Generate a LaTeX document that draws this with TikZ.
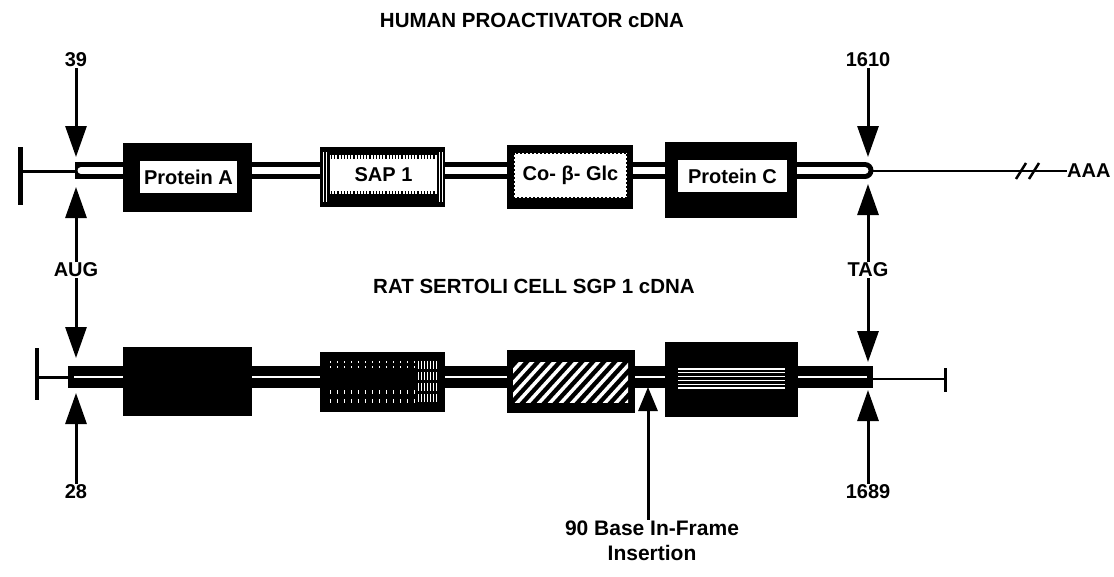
\documentclass[tikz,border=0pt]{standalone}
\usepackage{fontspec}
\setmainfont{Liberation Sans}
\usetikzlibrary{arrows.meta}
\begin{document}
\begin{tikzpicture}[x=1pt,y=-1pt,
  lab/.style={font=\fontsize{20}{24}\selectfont\bfseries, inner sep=1pt},
  ttl/.style={font=\fontsize{20.5}{24}\selectfont\bfseries, inner sep=1pt},
  bigarrow/.style={line width=3pt, -{Triangle[length=31pt,width=21pt]}},
  insarrow/.style={line width=3pt, -{Triangle[length=24pt,width=19pt]}},
  exon/.style={fill=black, inner sep=0pt, outer sep=0pt},
  win/.style={fill=white, inner sep=0pt, outer sep=0pt, font=\fontsize{20}{24}\selectfont\bfseries},
  stripe/.style={white, line width=0.7pt},
]
\useasboundingbox (0,0) rectangle (1114,576);

% ---------- titles
\node[ttl] (title1) at (532,20) {HUMAN PROACTIVATOR cDNA};
\node[ttl] (title2) at (534,286) {RAT SERTOLI CELL SGP 1 cDNA};

% ---------- top row backbone
\coordinate (tL) at (20,171);
\coordinate (tS) at (75,170.5);
\coordinate (tE) at (865,170.5);
\coordinate (tR) at (1067,171);
\draw[line width=5pt] (20,147) -- (20,205);
\draw[line width=3pt] (tL) -- (75,171);
\draw[line width=17pt] (tS) -- (tE);
\fill (tE) circle (8.5pt);
\draw[white, line width=7pt, line cap=round] (81,170.5) -- (865,170.5);
\draw[line width=2pt] (873,171) -- (tR);
\draw[line width=2.5pt] (1016,179) -- (1026,163) (1029,179) -- (1039,163);
\node[lab, anchor=west, inner sep=0pt] (aaa) at (tR) {AAA};

% ---------- top row boxes
\node[exon, minimum width=129pt, minimum height=69pt] (pA) at (187.5,177.5) {};
\node[win, minimum width=97pt, minimum height=32pt] (pAl) at (188.5,177) {Protein A};

\node[exon, minimum width=125pt, minimum height=60pt] (sap) at (382.5,177) {};
\node[win, minimum width=107pt, minimum height=39pt] (sapl) at (383.5,174.5) {SAP 1};
\draw[line width=4pt, dash pattern=on 1.2pt off 2pt] (331,156.5) -- (436,156.5);
\draw[line width=4pt, dash pattern=on 1.2pt off 2pt] (331,192.5) -- (436,192.5);
\foreach \x in {323.5,326.5,439.5,442} \draw[stripe] (\x,152) -- (\x,202);

\node[exon, minimum width=126pt, minimum height=64pt] (cbg) at (570,177) {};
\node[win, minimum width=113pt, minimum height=45pt] (cbgl) at (570.5,175.5) {Co- β- Glc};
\draw[line width=1.5pt, dash pattern=on 2pt off 2pt] (cbgl.north west) rectangle (cbgl.south east);

\node[exon, minimum width=132pt, minimum height=76pt] (pC) at (731,180) {};
\node[win, minimum width=109pt, minimum height=32pt] (pCl) at (732.5,176) {Protein C};

% ---------- bottom row backbone
\coordinate (bL) at (37,377);
\coordinate (bS) at (68,377);
\coordinate (bE) at (873,377);
\coordinate (bR) at (945,379);
\draw[line width=4pt] (37,348) -- (37,400);
\draw[line width=3pt] (bL) -- (bS);
\draw[line width=22pt] (bS) -- (bE);
\draw[white, line width=1.6pt] (74,377) -- (867,377);
\draw[line width=2pt] (873,379) -- (bR);
\draw[line width=3pt] (945,368) -- (945,392);

% ---------- bottom row boxes
\node[exon, minimum width=129pt, minimum height=69pt] (b1) at (187.5,381.5) {};

\node[exon, minimum width=125pt, minimum height=60pt] (b2) at (382.5,382) {};
\foreach \x in {330,337,...,414} {
  \draw[stripe, dash pattern=on 2pt off 3pt] (\x,361) -- (\x,370);
  \draw[stripe, dash pattern=on 4pt off 5pt] (\x,390) -- (\x,403);
}
\foreach \x in {418,421,...,438} \draw[stripe, dash pattern=on 8pt off 3pt] (\x,361) -- (\x,404);

\node[exon, minimum width=128pt, minimum height=63pt] (b3) at (571,381.5) {};
\begin{scope}
  \clip (513,362) rectangle (628,402);
  \foreach \i in {-4,...,11} \draw[white, line width=3.5pt] ({505+11*\i},404) -- ({545+11*\i},360);
\end{scope}

\node[exon, minimum width=133pt, minimum height=75pt] (b4) at (731.5,379.5) {};
\foreach \y in {369,372.8,376.6,380.4,384.2,388} \draw[white, line width=1.3pt] (678,\y) -- (785,\y);

% ---------- left markers
\node[lab] (n39) at (76,60) {39};
\coordinate (a1) at (76,157);
\draw[bigarrow] (n39) -- (a1);
\node[lab] (aug) at (76,270) {AUG};
\coordinate (a2) at (76,187);
\coordinate (a3) at (76,358);
\draw[bigarrow] (aug) -- (a2);
\draw[bigarrow] (aug) -- (a3);
\node[lab] (n28) at (76,492) {28};
\coordinate (a4) at (76,393);
\draw[bigarrow] (n28) -- (a4);

% ---------- right markers
\node[lab] (n1610) at (868,60) {1610};
\coordinate (a5) at (868,157);
\draw[bigarrow] (n1610) -- (a5);
\node[lab] (tag) at (868,270) {TAG};
\coordinate (a6) at (868,184);
\coordinate (a7) at (868,362);
\draw[bigarrow] (tag) -- (a6);
\draw[bigarrow] (tag) -- (a7);
\node[lab] (n1689) at (868,492) {1689};
\coordinate (a8) at (868,390);
\draw[bigarrow] (n1689) -- (a8);

% ---------- insertion
\node[lab, align=center, font=\fontsize{21}{25}\selectfont\bfseries] (ins) at (652,541) {90 Base In-Frame\\Insertion};
\coordinate (a9) at (648,387);
\draw[insarrow] (ins.north -| a9) -- (a9);
\end{tikzpicture}
\end{document}
